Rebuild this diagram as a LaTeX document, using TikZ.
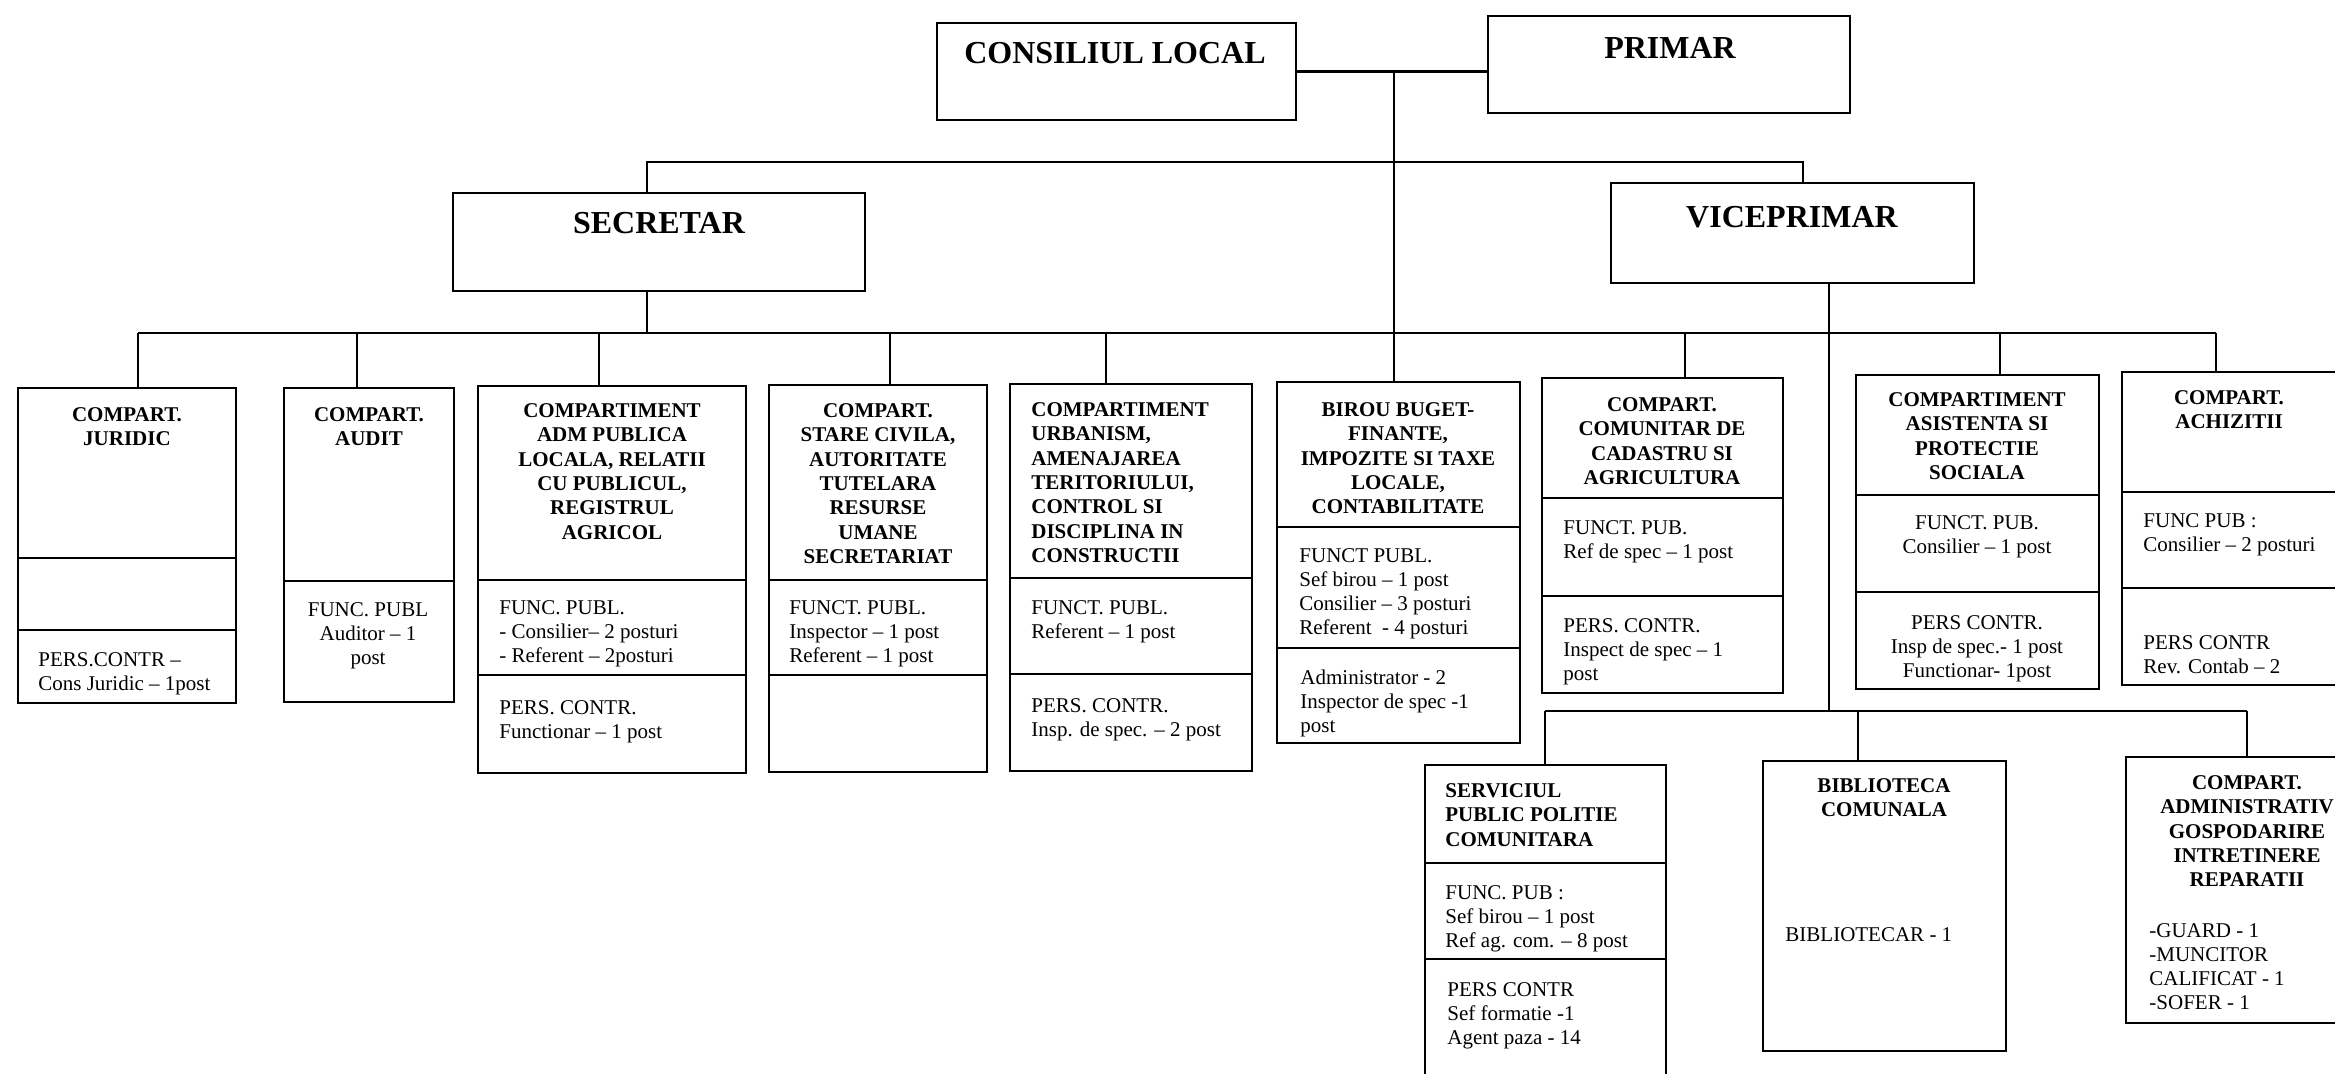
\documentclass[tikz,border=0pt]{standalone}
\usepackage{fontspec}
\setmainfont{Liberation Serif}
\usetikzlibrary{fit}
\begin{document}
\begin{tikzpicture}[x=0.5pt,y=-0.5pt,
  box/.style={draw, line width=1.4pt, inner sep=0pt, outer sep=0pt},
  div/.style={line width=1.4pt},
  conn/.style={line width=1.1pt},
  hd/.style={font=\fontsize{10.5}{12.2}\selectfont\bfseries, align=center, anchor=north, inner sep=0pt},
  hdl/.style={hd, align=left, anchor=north west},
  tx/.style={font=\fontsize{10.5}{12}\selectfont, align=left, anchor=north west, inner sep=0pt},
  txc/.style={tx, align=center, anchor=north},
  title/.style={font=\fontsize{16}{19}\selectfont\bfseries, anchor=base, inner sep=0pt}]
\useasboundingbox (0,0) rectangle (2335,1073);
\fill[white] (0,0) rectangle (2335,1073);
\clip (0,0) rectangle (2335,1073);

% ---- top level boxes
\node (cl)  [box, fit={(937,23) (1296,120)}] {};
\node (pr)  [box, fit={(1488,16) (1850,113)}] {};
\node (sec) [box, fit={(453,193) (865,291)}] {};
\node (vp)  [box, fit={(1611,183) (1974,283)}] {};
\node[title] (clt)  at (1115,63)  {CONSILIUL LOCAL};
\node[title] (prt)  at (1670,58)  {PRIMAR};
\node[title] (sect) at (659,233)  {SECRETAR};
\node[title] (vpt)  at (1792,227) {VICEPRIMAR};

% ---- department boxes
\node (jur)  [box, fit={(18,388) (236,703)}] {};
\node (aud)  [box, fit={(284,388) (454,702)}] {};
\node (adm)  [box, fit={(478,386) (746,773)}] {};
\node (sta)  [box, fit={(769,385) (987,772)}] {};
\node (urb)  [box, fit={(1010,384) (1252,771)}] {};
\node (bir)  [box, fit={(1277,382) (1520,743)}] {};
\node (cad)  [box, fit={(1542,378) (1783,693)}] {};
\node (asi)  [box, fit={(1856,375) (2099,689)}] {};
\node (ach)  [box, fit={(2122,372) (2350,685)}] {};
\node (ser)  [box, fit={(1425,765) (1666,1100)}] {};
\node (bib)  [box, fit={(1763,761) (2006,1051)}] {};
\node (gos)  [box, fit={(2126,757) (2370,1023)}] {};

% ---- dividers inside boxes
\foreach \n/\y in {jur/558, jur/630, aud/581, adm/580, adm/675, sta/580, sta/675,
                   urb/578, urb/674, bir/527, bir/648, cad/498, cad/596,
                   asi/495, asi/592, ach/492, ach/588, ser/863, ser/959}{
  \coordinate (dv) at (0,\y);
  \draw[div] (\n.west |- dv) -- (\n.east |- dv);
}

% ---- connectors
\draw[conn] (cl.east) -- (cl.east -| pr.west);
\coordinate (j0) at (1394,71.5);
\draw[conn] (j0) -- (j0 |- bir.north);
\coordinate (ubL) at (647,162);
\coordinate (ubR) at (1803,162);
\draw[conn] (ubL |- sec.north) -- (ubL) -- (ubR) -- (ubR |- vp.north);
\coordinate (lbL) at (138,333);
\coordinate (lbR) at (2216,333);
\draw[conn] (lbL) -- (lbR);
\draw[conn] (sec.south -| ubL) -- (ubL |- lbL);
\foreach \n/\x in {jur/138, aud/357, adm/599, sta/890, urb/1106, cad/1685, asi/2000, ach/2216}{
  \coordinate (dd) at (\x,333);
  \draw[conn] (dd) -- (dd |- \n.north);
}
\coordinate (vb) at (1829,711);
\draw[conn] (vp.south -| vb) -- (vb);
\coordinate (sbL) at (1545,711);
\coordinate (sbR) at (2247,711);
\draw[conn] (sbL) -- (sbR);
\foreach \n/\x in {ser/1545, bib/1858, gos/2247}{
  \coordinate (dd) at (\x,711);
  \draw[conn] (dd) -- (dd |- \n.north);
}

% ---- texts
\node[hd] (jurh) at (127,407) {COMPART.\\JURIDIC};
\node[tx] (jurb) at (38,652) {PERS.CONTR –\\Cons Juridic – 1post};

\node[hd] (audh) at (369,407) {COMPART.\\AUDIT};
\node[txc] (audb) at (368,602) {FUNC. PUBL\\Auditor – 1\\post};

\node[hd] (admh) at (612,403) {COMPARTIMENT\\ADM PUBLICA\\LOCALA, RELATII\\CU PUBLICUL,\\REGISTRUL\\AGRICOL};
\node[tx] (admm) at (499,600) {FUNC. PUBL.\\- Consilier– 2 posturi\\- Referent – 2posturi};
\node[tx] (admb) at (499,700) {PERS. CONTR.\\Functionar – 1 post};

\node[hd] (stah) at (878,403) {COMPART.\\STARE CIVILA,\\AUTORITATE\\TUTELARA\\RESURSE\\UMANE\\SECRETARIAT};
\node[tx] (stam) at (789,600) {FUNCT. PUBL.\\Inspector – 1 post\\Referent – 1 post};

\node[hdl] (urbh) at (1031,402) {COMPARTIMENT\\URBANISM,\\AMENAJAREA\\TERITORIULUI,\\CONTROL SI\\DISCIPLINA IN\\CONSTRUCTII};
\node[tx] (urbm) at (1031,600) {FUNCT. PUBL.\\Referent – 1 post};
\node[tx] (urbb) at (1031,698) {PERS. CONTR.\\Insp. de spec. – 2 post};

\node[hd] (birh) at (1398,402) {BIROU BUGET-\\FINANTE,\\IMPOZITE SI TAXE\\LOCALE,\\CONTABILITATE};
\node[tx] (birm) at (1299,548) {FUNCT PUBL.\\Sef birou – 1 post\\Consilier – 3 posturi\\Referent \ - 4 posturi};
\node[tx] (birb) at (1300,670) {Administrator - 2\\Inspector de spec -1\\post};

\node[hd] (cadh) at (1662,397) {COMPART.\\COMUNITAR DE\\CADASTRU SI\\AGRICULTURA};
\node[tx] (cadm) at (1563,520) {FUNCT. PUB.\\Ref de spec – 1 post};
\node[tx] (cadb) at (1563,618) {PERS. CONTR.\\Inspect de spec – 1\\post};

\node[hd] (asih) at (1977,392) {COMPARTIMENT\\ASISTENTA SI\\PROTECTIE\\SOCIALA};
\node[txc] (asim) at (1977,515) {FUNCT. PUB.\\Consilier – 1 post};
\node[txc] (asib) at (1977,615) {PERS CONTR.\\Insp de spec.- 1 post\\Functionar- 1post};

\node[hd] (achh) at (2229,390) {COMPART.\\ACHIZITII};
\node[tx] (achm) at (2143,513) {FUNC PUB :\\Consilier – 2 posturi};
\node[tx] (achb) at (2143,635) {PERS CONTR\\Rev. Contab – 2};

\node[hdl] (serh) at (1445,783) {SERVICIUL\\PUBLIC POLITIE\\COMUNITARA};
\node[tx] (serm) at (1445,885) {FUNC. PUB :\\Sef birou – 1 post\\Ref ag. com. – 8 post};
\node[tx] (serb) at (1447,982) {PERS CONTR\\Sef formatie -1\\Agent paza - 14};

\node[hd] (bibh) at (1884,778) {BIBLIOTECA\\COMUNALA};
\node[tx] (bibb) at (1785,927) {BIBLIOTECAR - 1};

\node[hd] (gosh) at (2247,775) {COMPART.\\ADMINISTRATIV\\GOSPODARIRE\\INTRETINERE\\REPARATII};
\node[tx] (gosb) at (2149,923) {-GUARD - 1\\-MUNCITOR\\CALIFICAT - 1\\-SOFER - 1};
\end{tikzpicture}
\end{document}
